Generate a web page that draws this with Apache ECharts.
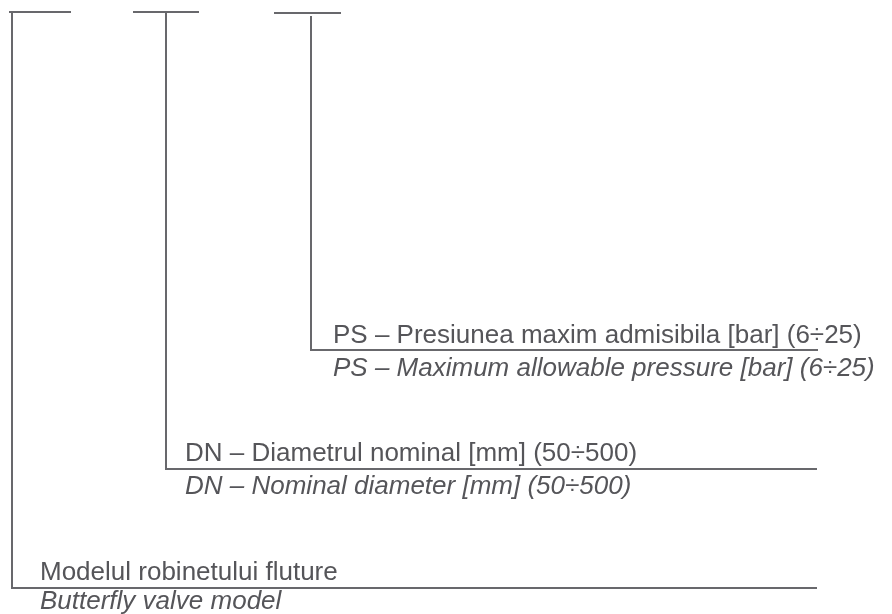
<!DOCTYPE html>
<html>
<head>
<meta charset="utf-8">
<script src="https://cdn.jsdelivr.net/npm/echarts@6/dist/echarts.min.js"></script>
<style>
html,body{margin:0;padding:0;background:#fff;}
#c{width:892px;height:614px;}
</style>
</head>
<body>
<div id="c"></div>
<script>
// Diagram geometry (in diagram units = canvas pixels via hidden value axes)
const topBars = [
  [[9, 12], [71, 12]],
  [[133, 12], [199, 12]],
  [[274, 13], [341, 13]]
];
const leaderModel = [[12, 12], [12, 588], [817, 588]];
const leaderDN = [[166, 12], [166, 469], [817, 469]];
const leaderPS = [[311, 16], [311, 350], [818, 350]];

const labelsRo = [
  "PS – Presiunea maxim admisibila [bar] (6÷25)",
  "DN – Diametrul nominal [mm] (50÷500)",
  "Modelul robinetului fluture"
];
const labelsEn = [
  "PS – Maximum allowable pressure [bar] (6÷25)",
  "DN – Nominal diameter [mm] (50÷500)",
  "Butterfly valve model"
];
const anchorsRo = [[333, 336], [185, 454], [40, 573]];
const anchorsEn = [[333, 369], [185, 487], [40, 602]];

const lineColor = '#68686c';
const textColor = '#555559';

const segments = topBars.concat([leaderModel, leaderDN, leaderPS]).map(c => ({coords: c}));

function textSeries(labels, anchors, italic) {
  return {
    type: 'custom',
    coordinateSystem: 'cartesian2d',
    data: anchors.map((a, i) => [a[0], a[1], i]),
    renderItem: function (params, api) {
      const p = api.coord([api.value(0), api.value(1)]);
      return {
        type: 'text',
        x: p[0], y: p[1],
        style: {
          text: labels[api.value(2)],
          font: (italic ? 'italic ' : '') + '26px "Liberation Sans", Arial, sans-serif',
          fill: textColor,
          align: 'left',
          verticalAlign: 'middle'
        }
      };
    },
    silent: true
  };
}

const chart = echarts.init(document.getElementById('c'), null, {renderer: 'canvas'});
chart.setOption({
  animation: false,
  backgroundColor: '#ffffff',
  grid: {left: 0, right: 0, top: 0, bottom: 0},
  xAxis: {type: 'value', min: 0, max: 892, show: false},
  yAxis: {type: 'value', min: 0, max: 614, inverse: true, show: false},
  series: [
    {
      type: 'lines',
      coordinateSystem: 'cartesian2d',
      polyline: true,
      silent: true,
      lineStyle: {color: lineColor, width: 2, opacity: 1},
      data: segments
    },
    textSeries(labelsRo, anchorsRo, false),
    textSeries(labelsEn, anchorsEn, true)
  ]
});
</script>
</body>
</html>
